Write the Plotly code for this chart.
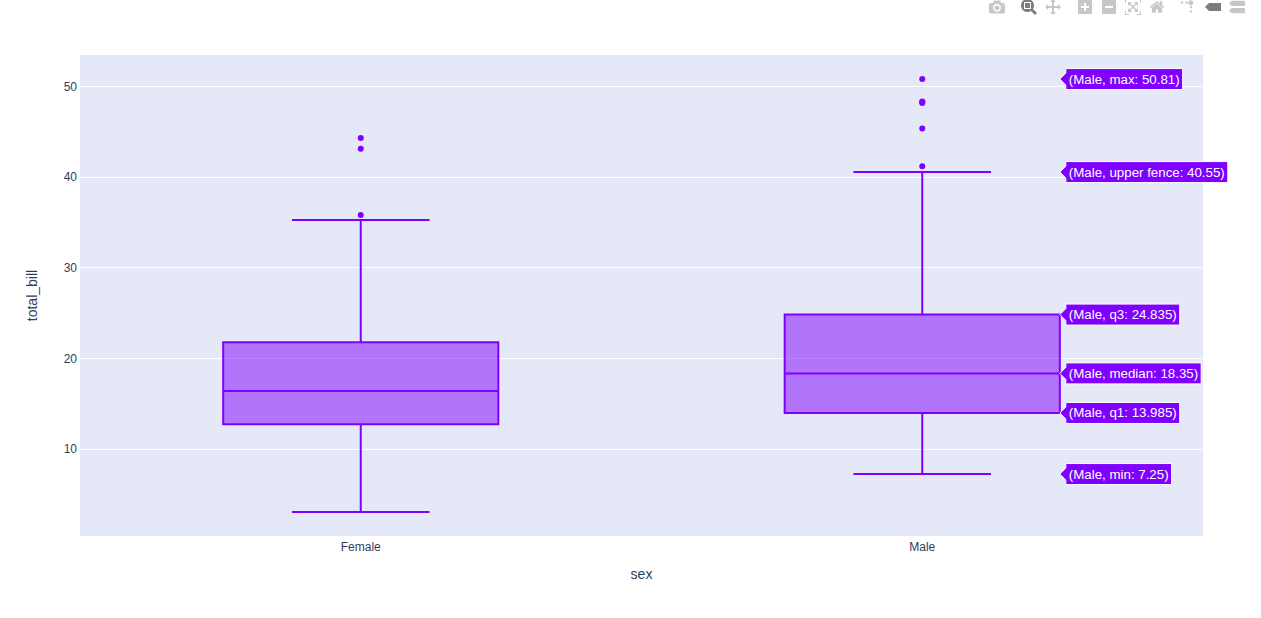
import plotly.graph_objects as go

categories = ["Female", "Male"]
q1_values = [12.75, 13.985]
median_values = [16.4, 18.35]
q3_values = [21.79, 24.835]
female_samples = [3.07, 35.26, 35.83, 43.11, 44.3]
male_samples = [7.25, 40.55, 41.19, 45.35, 48.17, 48.27, 48.33, 50.81]

fig = go.Figure(
    go.Box(
        x=categories,
        y=[female_samples, male_samples],
        q1=q1_values,
        median=median_values,
        q3=q3_values,
        boxpoints="outliers",
        marker_color="#7F00FF",
        line_color="#7F00FF",
        showlegend=False,
        name="",
    )
)
fig.update_layout(
    template="plotly",
    width=1261,
    height=618,
    margin=dict(l=80, r=58, t=55, b=82),
    font=dict(family="Liberation Sans, Arial, sans-serif", color="#2a3f5f"),
    plot_bgcolor="#E5E8F6",
    boxmode="group",
    hovermode="closest",
    hoverlabel=dict(font=dict(size=13.3)),
    xaxis=dict(title=dict(text="sex", standoff=16), ticks="", ticklabelstandoff=2),
    yaxis=dict(title=dict(text="total_bill", standoff=22), ticks="", ticklabelstandoff=2),
)

post = """
document.body.style.margin = '0';
var gd = document.getElementById('{plot_id}');
var css = document.createElement('style');
css.textContent = '.modebar-container{top:-6px !important;} .modebar{margin-right:10px !important;}';
document.head.appendChild(css);
setTimeout(function () {
  delete gd.calcdata[0][1].lf;
  Plotly.Fx.hover(gd, {xval: 1, yval: 18.35}, 'xy');
}, 300);
"""
fig.write_html(
    "out.html",
    config={
        "displayModeBar": True,
        "displaylogo": False,
        "modeBarButtonsToAdd": ["togglespikelines", "v1hovermode"],
    },
    post_script=post,
)
